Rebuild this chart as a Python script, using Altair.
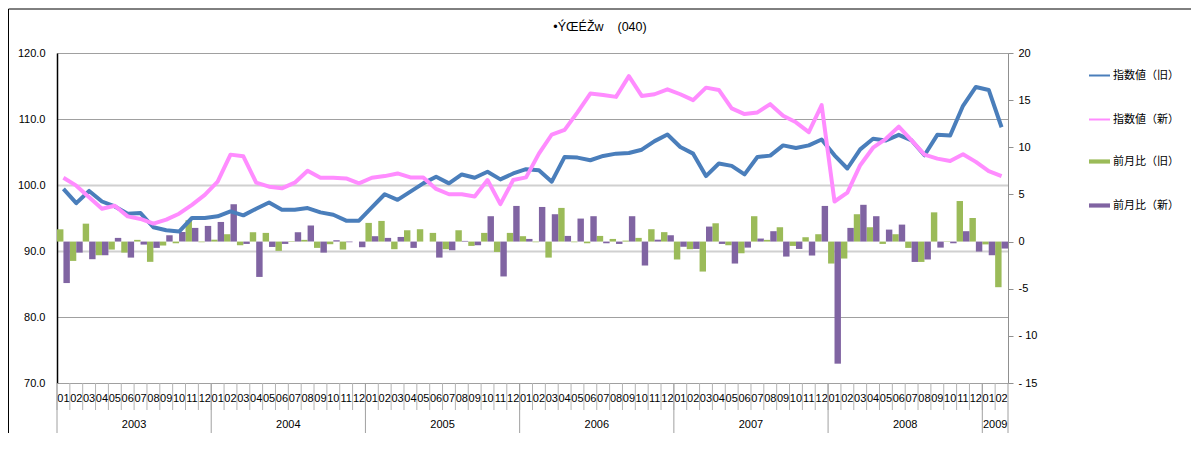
import altair as alt
import pandas as pd

# ---------------- data ----------------
years = [2003, 2004, 2005, 2006, 2007, 2008, 2009]
month_labels = ["01", "02", "03", "04", "05", "06", "07", "08", "09", "10", "11", "12"]
keys = [f"{y}-{m}" for y in years for m in month_labels][:74]
key_months = [k[5:] for k in keys]

chart_title = "•ÝŒÉŽw\u00a0\u00a0\u00a0\u00a0(040)"
series_line = ["指数値（旧）", "指数値（新）"]
series_bar = ["前月比（旧）", "前月比（新）"]

index_old = [
    99.4, 97.25, 99.1, 97.5, 96.75, 95.65, 95.75, 93.6, 93.15, 92.95, 95.0, 95.0,
    95.25, 96.0, 95.4, 96.4, 97.35, 96.25, 96.25, 96.5, 95.85, 95.5, 94.6, 94.6,
    96.6, 98.6, 97.75, 99.0, 100.25, 101.25, 100.25, 101.6, 101.1, 102.0, 100.85, 101.75,
    102.4, 102.25, 100.5, 104.25, 104.15, 103.75, 104.4, 104.75, 104.85, 105.35, 106.65, 107.65,
    105.75, 104.75, 101.35, 103.25, 102.9, 101.6, 104.25, 104.45, 106.0, 105.6, 106.0, 106.9,
    104.5, 102.5, 105.4, 107.0, 106.75, 107.6, 106.75, 104.5, 107.6, 107.5, 112.0, 114.85,
    114.4, 108.75,
]
index_new = [
    101.1, 99.9, 98.15, 96.4, 96.85, 95.25, 94.85, 94.15, 94.75, 95.65, 97.0, 98.5,
    100.5, 104.6, 104.35, 100.35, 99.75, 99.5, 100.35, 102.15, 101.1, 101.1, 101.0, 100.25,
    101.1, 101.35, 101.75, 101.15, 101.15, 99.4, 98.6, 98.6, 98.25, 100.75, 97.1, 100.75,
    101.15, 104.75, 107.65, 108.35, 111.0, 113.85, 113.65, 113.35, 116.5, 113.5, 113.75, 114.5,
    113.75, 112.85, 114.75, 114.4, 111.6, 110.75, 111.0, 112.25, 110.5, 109.5, 108.0, 112.1,
    97.5, 98.85, 103.0, 105.65, 107.0, 108.85, 106.75, 104.6, 104.0, 103.65, 104.65, 103.5,
    102.1, 101.35,
]
mom_old = [
    1.3, -2.05, 1.9, -1.45, -0.85, -1.17, 0.18, -2.15, -0.42, -0.18, 2.26, -0.07,
    0.2, 0.78, -0.39, 0.99, 0.92, -0.99, 0.05, 0.18, -0.67, -0.28, -0.85, 0.0,
    1.98, 2.19, -0.81, 1.2, 1.31, 0.92, -0.81, 1.2, -0.46, 0.92, -1.1, 0.92,
    0.57, -0.07, -1.7, 3.57, -0.07, -0.18, 0.6, 0.28, 0.1, 0.39, 1.31, 1.0,
    -1.9, -0.81, -3.18, 1.94, -0.39, -1.24, 2.69, 0.18, 1.52, -0.46, 0.46, 0.78,
    -2.33, -1.8, 2.9, 1.52, -0.25, 0.78, -0.67, -2.16, 3.1, -0.04, 4.3, 2.5,
    -0.3, -4.84,
]
mom_new = [
    -4.4, -1.17, -1.87, -1.45, 0.39, -1.7, -0.32, -0.67, 0.67, 1.02, 1.45, 1.66,
    2.08, 3.96, -0.25, -3.75, -0.57, -0.25, 0.99, 1.7, -1.17, 0.14, -0.07, -0.6,
    0.57, 0.39, 0.49, -0.67, 0.0, -1.7, -0.92, 0.07, -0.39, 2.69, -3.7, 3.78,
    0.28, 3.67, 2.9, 0.6, 2.44, 2.69, -0.18, -0.25, 2.69, -2.54, 0.2, 0.67,
    -0.55, -0.78, 1.59, -0.25, -2.33, -0.64, 0.32, 1.1, -1.59, -0.78, -1.48, 3.78,
    -12.95, 1.45, 3.9, 2.69, 1.27, 1.8, -2.16, -1.9, -0.64, -0.18, 1.1, -1.06,
    -1.45, -0.74,
]

year_names = ["2003", "2004", "2005", "2006", "2007", "2008", "2009"]
year_label_keys = ["2003-07", "2004-07", "2005-07", "2006-07", "2007-07", "2008-07", "2009-02"]
year_start_keys = ["2003-01", "2004-01", "2005-01", "2006-01", "2007-01", "2008-01", "2009-01"]

# ---------------- styling ----------------
FONT = "Liberation Sans"
JFONT = "Noto Sans CJK JP"
BLUE, PINK, GREEN, PURPLE = "#4a7ebb", "#ff8cff", "#9bbb59", "#8064a2"

line_df = pd.DataFrame({
    "key": keys * 2,
    "series": [series_line[0]] * len(keys) + [series_line[1]] * len(keys),
    "value": index_old + index_new,
})
bar_df = pd.DataFrame({
    "key": keys * 2,
    "series": [series_bar[0]] * len(keys) + [series_bar[1]] * len(keys),
    "value": mom_old + mom_new,
})


def xenc(axis=None, **kw):
    return alt.X("key:O", scale=alt.Scale(domain=keys, paddingInner=0, paddingOuter=0),
                 axis=axis, **kw)


x_axis = alt.Axis(
    title=None, labels=False, ticks=False, domainColor="#000000", grid=False,
)

left_axis = alt.Axis(
    orient="left", title=None, values=[70, 80, 90, 100, 110, 120], format=".1f",
    ticks=False, labelPadding=12, domainColor="#000000", domainWidth=1.5,
    labelFontSize=11, labelFont=FONT, labelColor="#000000", grid=True,
    gridColor={"condition": {"test": "datum.value == 100 || datum.value == 90", "value": "#d0d0d0"},
               "value": "#a0a0a0"},
    gridWidth={"condition": {"test": "datum.value == 100 || datum.value == 90", "value": 2},
               "value": 1},
)

right_axis = alt.Axis(
    orient="right", title=None, values=[-15, -10, -5, 0, 5, 10, 15, 20],
    labelExpr="datum.value < 0 ? (datum.value <= -10 ? '- ' : '-') + abs(datum.value) : '' + datum.value",
    tickSize=5, tickColor="#909090", domainColor="#909090", labelPadding=5,
    labelFontSize=11, labelFont=FONT, labelColor="#000000", grid=False,
)

bars = alt.Chart(bar_df).mark_bar().encode(
    x=xenc(axis=x_axis),
    xOffset=alt.XOffset("series:N", scale=alt.Scale(domain=series_bar, paddingInner=0, paddingOuter=0)),
    y=alt.Y("value:Q", scale=alt.Scale(domain=[-15, 20], nice=False), axis=right_axis),
    fill=alt.Fill("series:N", scale=alt.Scale(domain=series_bar, range=[GREEN, PURPLE]),
                  legend=alt.Legend(title=None, orient="none", legendX=1031, legendY=97,
                                    symbolType="M-1,-0.2H1V0.2H-1Z", symbolSize=441,
                                    rowPadding=27, padding=0, labelOffset=2,
                                    labelFont=JFONT, labelFontSize=11, labelColor="#000000")),
)

line_legend = alt.Legend(title=None, orient="none", legendX=1031, legendY=11,
                         symbolType="stroke", symbolStrokeWidth=2, symbolSize=441,
                         rowPadding=27, padding=0, labelOffset=2,
                         labelFont=JFONT, labelFontSize=11, labelColor="#000000")
line_color = alt.Color("series:N", scale=alt.Scale(domain=series_line, range=[BLUE, PINK]),
                       legend=line_legend)
line_y = alt.Y("value:Q", scale=alt.Scale(domain=[70, 120], nice=False, zero=False), axis=left_axis)

line_old = alt.Chart(line_df[line_df.series == series_line[0]]).mark_line(
    strokeWidth=4, strokeJoin="round").encode(x=xenc(), y=line_y, color=line_color)
line_new = alt.Chart(line_df[line_df.series == series_line[1]]).mark_line(
    strokeWidth=4, strokeJoin="round").encode(x=xenc(), y=line_y, color=line_color)
lines = alt.layer(line_old, line_new)

month_ticks = alt.Chart(pd.DataFrame({"key": keys})).mark_rule(
    color="#b4b4b4", strokeWidth=1).encode(
    x=xenc(bandPosition=0), y=alt.value(330), y2=alt.value(357))
month_text = alt.Chart(pd.DataFrame({"key": keys, "label": key_months})).mark_text(
    font=FONT, fontSize=11, color="#000000", baseline="middle", align="center").encode(
    x=xenc(), y=alt.value(346), text="label:N")
year_rules = alt.Chart(pd.DataFrame({"key": year_start_keys})).mark_rule(
    color="#a0a0a0", strokeWidth=1).encode(
    x=xenc(bandPosition=0), y=alt.value(330), y2=alt.value(387))
year_end_rule = alt.Chart(pd.DataFrame({"key": [keys[-1]]})).mark_rule(
    color="#a0a0a0", strokeWidth=1).encode(
    x=xenc(bandPosition=1), y=alt.value(330), y2=alt.value(387))
year_text = alt.Chart(pd.DataFrame({"key": year_label_keys, "label": year_names})).mark_text(
    font=FONT, fontSize=11, color="#000000", baseline="middle", align="center").encode(
    x=xenc(bandPosition=0), y=alt.value(372), text="label:N")

title_text = alt.Chart(pd.DataFrame({"t": [chart_title]})).mark_text(
    font=FONT, fontSize=12.5, color="#000000", baseline="middle", align="center").encode(
    x=alt.value(543), y=alt.value(-26), text="t:N")

border = alt.Chart(pd.DataFrame({"a": [0]})).mark_rect(
    fill="transparent", stroke="#000000", strokeWidth=1).encode(
    x=alt.value(-48.5), x2=alt.value(1200), y=alt.value(-44), y2=alt.value(420))

chart = alt.layer(
    bars, month_ticks, month_text, year_rules, year_end_rule, year_text, lines, title_text, border
).resolve_scale(y="independent").properties(
    width=951, height=330,
    autosize=alt.AutoSizeParams(type="none"),
    padding={"left": 49, "top": 45, "right": 183, "bottom": 50},
).configure_view(stroke="#404040", strokeWidth=1).configure(font=FONT)

chart.save("out.html", embed_options={"renderer": "svg", "actions": False})
